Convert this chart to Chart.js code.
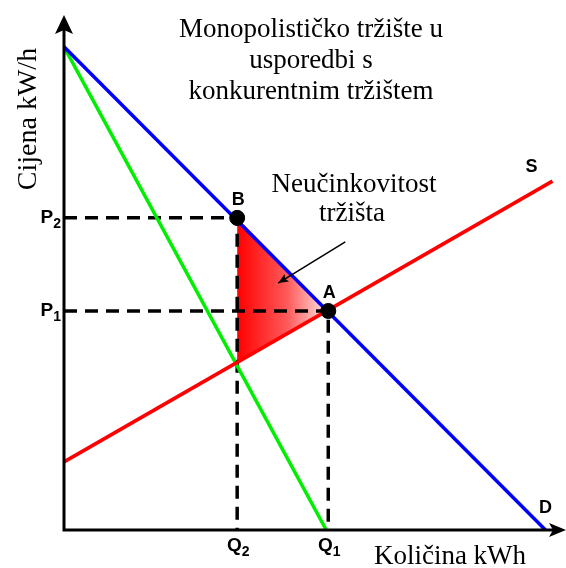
<!DOCTYPE html>
<html>
<head>
<meta charset="utf-8">
<script src="https://cdn.jsdelivr.net/npm/chart.js@4/dist/chart.umd.min.js"></script>
<style>
  html, body { margin: 0; padding: 0; background: #fff; }
  #wrap { width: 566px; height: 568px; }
</style>
</head>
<body>
<div id="wrap"><canvas id="chart" width="566" height="568"></canvas></div>
<script>
// ===== data (quantity on x, price on y) =====
const demandQ = [0, 9.62];
const demandP = [9.86, 0];
const mrQ = [0, 5.24];
const mrP = [9.86, 0];
const supplyQ = [0, 9.76];
const supplyP = [1.39, 7.12];

const pointNames = ["B", "A"];
const pointQ = [3.46, 5.28];
const pointP = [6.37, 4.47];

// deadweight loss triangle: B, A, MR/S crossing
const lossQ = [3.46, 5.28, 3.46];
const lossP = [6.37, 4.47, 3.43];

const priceTicks = [["P", "2"], ["P", "1"]];
const qtyTicks = [["Q", "2"], ["Q", "1"]];

const titleLines = ["Monopolističko tržište u", "usporedbi s", "konkurentnim tržištem"];
const lossLabel = ["Neučinkovitost", "tržišta"];

const pts = (qs, ps) => qs.map((q, i) => ({ x: q, y: ps[i] }));

const serif = "'Liberation Serif', 'Times New Roman', serif";
const sans = "'Liberation Sans', Arial, sans-serif";

// ===== custom drawing =====
const econPlugin = {
    id: "econ",
    beforeDatasetsDraw(chart) {
        const { ctx, scales: { x, y } } = chart;
        // triangle with gradient
        const xs = lossQ.map(v => x.getPixelForValue(v));
        const ys = lossP.map(v => y.getPixelForValue(v));
        const g = ctx.createLinearGradient(Math.min(...xs), 0, Math.max(...xs), 0);
        g.addColorStop(0, "#ff0000");
        g.addColorStop(0.55, "#ff5a5a");
        g.addColorStop(1, "#ffe6e6");
        ctx.save();
        ctx.beginPath();
        ctx.moveTo(xs[0], ys[0]);
        for (let i = 1; i < xs.length; i++) ctx.lineTo(xs[i], ys[i]);
        ctx.closePath();
        ctx.fillStyle = g;
        ctx.fill();
        ctx.restore();
    },
    afterDatasetsDraw(chart) {
        const { ctx, scales: { x, y } } = chart;
        const x0 = x.getPixelForValue(0);
        const y0 = y.getPixelForValue(0);
        ctx.save();
        ctx.strokeStyle = "#000";
        ctx.fillStyle = "#000";
        ctx.lineWidth = 3;

        // axes with arrows
        ctx.beginPath();
        ctx.moveTo(x0, y0 + 1.5);
        ctx.lineTo(x0, 30);
        ctx.moveTo(x0 - 1.5, y0);
        ctx.lineTo(553, y0);
        ctx.stroke();
        ctx.beginPath();
        ctx.moveTo(x0, 15);
        ctx.lineTo(x0 - 9, 34);
        ctx.lineTo(x0, 30);
        ctx.lineTo(x0 + 9, 34);
        ctx.closePath();
        ctx.fill();
        ctx.beginPath();
        ctx.moveTo(566, y0);
        ctx.lineTo(549, y0 - 7);
        ctx.lineTo(553, y0);
        ctx.lineTo(549, y0 + 7);
        ctx.closePath();
        ctx.fill();

        // subscript tick labels
        const sub = (pair, px, py, align) => {
            ctx.font = "bold 19px " + sans;
            const w1 = ctx.measureText(pair[0]).width;
            ctx.font = "bold 14px " + sans;
            const w2 = ctx.measureText(pair[1]).width;
            let left = align === "right" ? px - w1 - w2 : px - (w1 + w2) / 2;
            ctx.textAlign = "left";
            ctx.textBaseline = "middle";
            ctx.font = "bold 19px " + sans;
            ctx.fillText(pair[0], left, py);
            ctx.font = "bold 14px " + sans;
            ctx.fillText(pair[1], left + w1, py + 6);
        };
        priceTicks.forEach((t, i) => sub(t, x0 - 3, y.getPixelForValue(pointP[i]), "right"));
        qtyTicks.forEach((t, i) => sub(t, x.getPixelForValue(pointQ[i]) + 1, y0 + 16, "center"));

        // point and curve labels
        ctx.font = "bold 18px " + sans;
        ctx.textAlign = "center";
        ctx.textBaseline = "middle";
        pointNames.forEach((n, i) => {
            ctx.fillText(n, x.getPixelForValue(pointQ[i]) + 1, y.getPixelForValue(pointP[i]) - 18);
        });
        ctx.fillText("S", x.getPixelForValue(supplyQ[1]) - 21, y.getPixelForValue(supplyP[1]) - 14);
        ctx.fillText("D", x.getPixelForValue(demandQ[1]), y0 - 22);

        // titles
        ctx.font = "27px " + serif;
        titleLines.forEach((t, i) => ctx.fillText(t, 311, 30 + i * 31));
        ctx.fillText(lossLabel[0], 354, 185);
        ctx.fillText(lossLabel[1], 352, 214);
        ctx.fillText("Količina kWh", 450, 557);
        ctx.save();
        ctx.translate(29, 119);
        ctx.rotate(-Math.PI / 2);
        ctx.font = "28px " + serif;
        ctx.fillText("Cijena kW/h", 0, 0);
        ctx.restore();

        // pointer arrow to the triangle
        const ax1 = x.getPixelForValue(5.62), ay1 = y.getPixelForValue(5.88);
        const ax2 = x.getPixelForValue(4.28), ay2 = y.getPixelForValue(5.04);
        ctx.lineWidth = 1.5;
        ctx.beginPath();
        ctx.moveTo(ax1, ay1);
        ctx.lineTo(ax2, ay2);
        ctx.stroke();
        const ang = Math.atan2(ay2 - ay1, ax2 - ax1);
        ctx.beginPath();
        ctx.moveTo(ax2, ay2);
        ctx.lineTo(ax2 - 11 * Math.cos(ang - 0.4), ay2 - 11 * Math.sin(ang - 0.4));
        ctx.lineTo(ax2 - 8 * Math.cos(ang), ay2 - 8 * Math.sin(ang));
        ctx.lineTo(ax2 - 11 * Math.cos(ang + 0.4), ay2 - 11 * Math.sin(ang + 0.4));
        ctx.closePath();
        ctx.fill();
        ctx.restore();
    }
};

const guide = (i) => ({
    data: [{ x: 0, y: pointP[i] }, { x: pointQ[i], y: pointP[i] }, { x: pointQ[i], y: 0 }],
    showLine: true,
    borderColor: "#000",
    borderWidth: 3.5,
    borderDash: [13, 8],
    pointRadius: 0,
    fill: false
});

new Chart(document.getElementById("chart"), {
    type: "scatter",
    data: {
        datasets: [
            {
                data: pts(pointQ, pointP),
                backgroundColor: "#000",
                borderColor: "#000",
                pointRadius: 7.5,
                showLine: false
            },
            { data: pts(demandQ, demandP), showLine: true, borderColor: "#0000ff", borderWidth: 3.5, pointRadius: 0 },
            { data: pts(supplyQ, supplyP), showLine: true, borderColor: "#ff0000", borderWidth: 3.5, pointRadius: 0 },
            { data: pts(mrQ, mrP), showLine: true, borderColor: "#00ee00", borderWidth: 3.5, pointRadius: 0 },
            guide(0),
            guide(1)
        ]
    },
    options: {
        responsive: false,
        animation: false,
        layout: { padding: { left: 64, right: 2, top: 40, bottom: 38 } },
        plugins: { legend: { display: false }, tooltip: { enabled: false } },
        scales: {
            x: { type: "linear", min: 0, max: 9.86, display: false },
            y: { type: "linear", min: 0, max: 10, display: false }
        }
    },
    plugins: [econPlugin]
});
</script>
</body>
</html>
